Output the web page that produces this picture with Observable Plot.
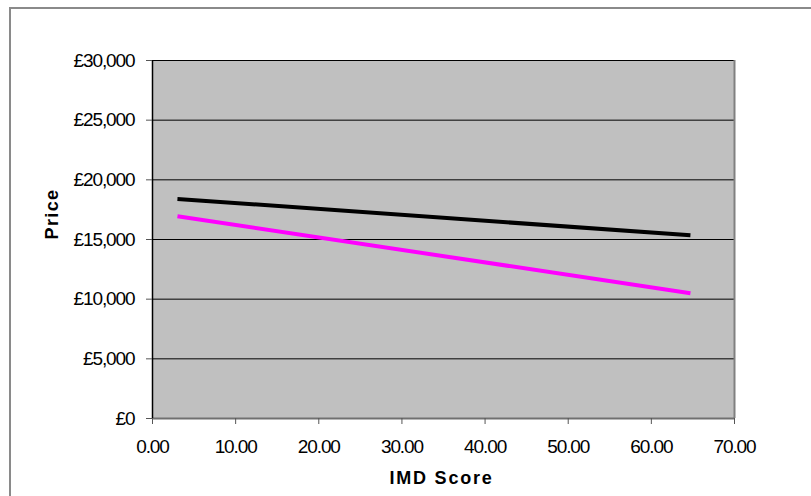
<!DOCTYPE html>
<html><head><meta charset="utf-8">
<script src="https://cdn.jsdelivr.net/npm/d3@7"></script>
<script src="https://cdn.jsdelivr.net/npm/@observablehq/plot@0.6"></script>
<style>
html,body{margin:0;padding:0;background:#fff;}
#wrap{position:relative;width:811px;height:496px;overflow:hidden;}
#frame{position:absolute;left:9px;top:7px;width:900px;height:600px;border-top:2px solid #8a8a8a;border-left:2px solid #8a8a8a;pointer-events:none;}
svg{font-family:"Liberation Sans",Arial,sans-serif;}
svg g[aria-label="x-axis tick label"] text, svg g[aria-label="y-axis tick label"] text{letter-spacing:-1.1px;}
svg g[aria-label="x-axis tick label"], svg g[aria-label="y-axis tick label"]{font-size:19px;}
</style></head>
<body><div id="wrap"><div id="frame"></div></div>
<script>
// Data (linear trend lines)
const imdScore = [3.0, 64.7];
const seriesBlack = [18400, 15350];
const seriesMagenta = [16950, 10500];
const yTicks = [0, 5000, 10000, 15000, 20000, 25000, 30000];
const xTicks = [0, 10, 20, 30, 40, 50, 60, 70];

const rows = [];
imdScore.forEach((x, i) => rows.push({x, y: seriesBlack[i], s: "black"}));
imdScore.forEach((x, i) => rows.push({x, y: seriesMagenta[i], s: "magenta"}));

const fmtX = d => d3.format(".2f")(d);
const fmtY = d => "£" + d3.format(",")(d);

const chart = Plot.plot({
  width: 811, height: 496,
  marginLeft: 152, marginRight: 77, marginTop: 60, marginBottom: 78,
  style: {fontSize: "19px", fontFamily: "Liberation Sans, Arial, sans-serif", color: "#000", background: "transparent"},
  x: {domain: [0, 70], label: null},
  y: {domain: [0, 30000], label: null},
  marks: [
    Plot.frame({fill: "#c0c0c0", stroke: null}),
    Plot.ruleY(yTicks.filter(d => d > 0), {stroke: "#000", strokeWidth: 1}),
    Plot.ruleX([70], {stroke: "#808080", strokeWidth: 2}),
    Plot.ruleY([0], {stroke: "#707070", strokeWidth: 2}),
    Plot.ruleX([0], {stroke: "#000", strokeWidth: 1.5}),
    Plot.axisX({ticks: xTicks, tickFormat: fmtX, tickSize: 6, tickPadding: 15, stroke: "#555", fontSize: 19}),
    Plot.axisY({ticks: yTicks, tickFormat: fmtY, tickSize: 6, tickPadding: 12, stroke: "#555", fontSize: 19}),
    Plot.line(rows, {x: "x", y: "y", z: "s", stroke: d => d.s === "black" ? "#000" : "#ff00ff", strokeWidth: 4, strokeLinecap: "butt"}),
    Plot.text(["IMD Score"], {frameAnchor: "bottom", lineAnchor: "middle", dy: 60, dx: -2, fontWeight: "bold", fontSize: 18}),
    Plot.text(["Price"], {frameAnchor: "left", lineAnchor: "middle", dx: -100, rotate: -90, fontWeight: "bold", fontSize: 18})
  ]
});
document.getElementById("wrap").prepend(chart);
chart.style.position = "absolute"; chart.style.left = "0"; chart.style.top = "0";
// title letter spacing
chart.querySelectorAll("text").forEach(t => {
  if (t.textContent === "IMD Score") t.setAttribute("letter-spacing", "1.8px");
  if (t.textContent === "Price") t.setAttribute("letter-spacing", "1.4px");
});
</script>
</body></html>
